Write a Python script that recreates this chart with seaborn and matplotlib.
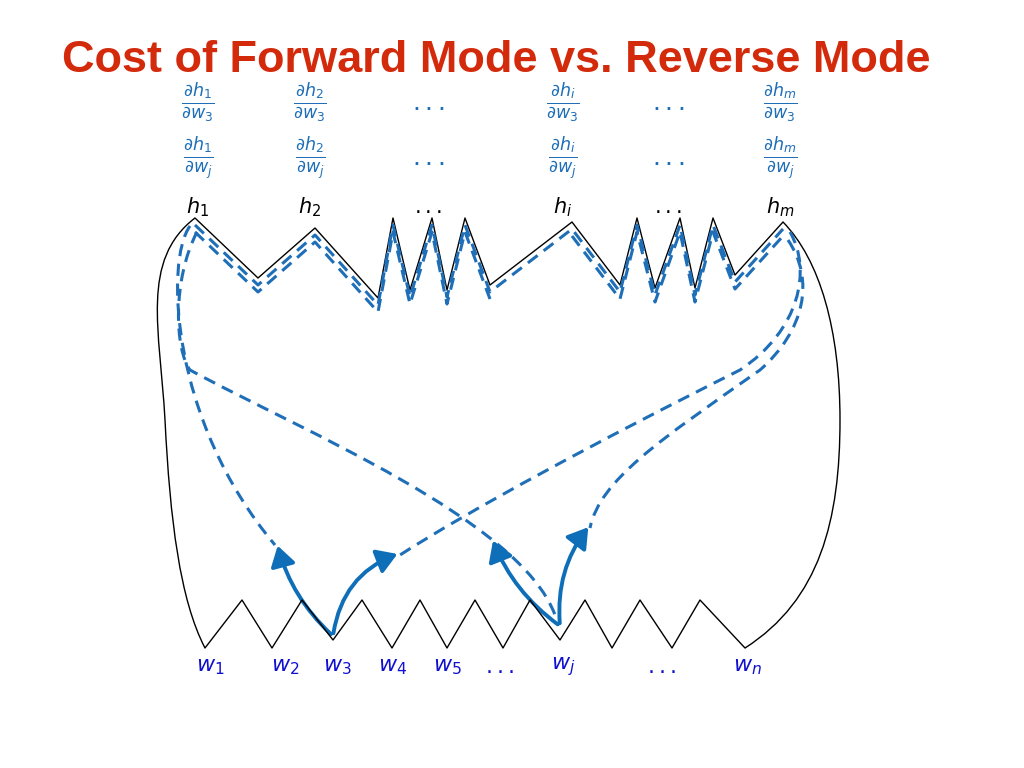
import numpy as np
import matplotlib.pyplot as plt
import seaborn as sns
from matplotlib.patches import FancyArrowPatch, PathPatch
from matplotlib.path import Path

sns.set_theme(style="white")

# --- diagram data (pixel coordinates) ---
top_x = [195, 258, 315, 378, 393, 410, 432, 447, 465, 490, 572, 620, 637, 655, 680, 695, 713, 735, 783]
top_y = [218, 278, 228, 298, 218, 290, 218, 290, 218, 285, 222, 285, 218, 288, 218, 288, 218, 275, 222]
bot_x = [205, 242, 272, 302, 333, 362, 392, 420, 447, 475, 503, 530, 560, 585, 612, 640, 672, 700, 745]
bot_y = [648, 600, 648, 600, 640, 600, 648, 600, 648, 600, 648, 600, 640, 600, 648, 600, 648, 600, 648]

head_x = [198, 310, 428, 563, 668, 780]
head_labels = [r"$h_1$", r"$h_2$", r"$...$", r"$h_i$", r"$...$", r"$h_m$"]
d3_labels = [r"$\frac{\partial h_1}{\partial w_3}$", r"$\frac{\partial h_2}{\partial w_3}$", r"$...$",
             r"$\frac{\partial h_i}{\partial w_3}$", r"$...$", r"$\frac{\partial h_m}{\partial w_3}$"]
dj_labels = [r"$\frac{\partial h_1}{\partial w_j}$", r"$\frac{\partial h_2}{\partial w_j}$", r"$...$",
             r"$\frac{\partial h_i}{\partial w_j}$", r"$...$", r"$\frac{\partial h_m}{\partial w_j}$"]
w_x = [210, 285, 337, 393, 447, 500, 563, 662, 747]
w_labels = [r"$w_1$", r"$w_2$", r"$w_3$", r"$w_4$", r"$w_5$", r"$...$", r"$w_j$", r"$...$", r"$w_n$"]

BLUE = "#1f6fb8"

fig = plt.figure(figsize=(10.24, 7.68), dpi=100)
ax = fig.add_axes([0, 0, 1, 1])
ax.set_xlim(0, 1024)
ax.set_ylim(768, 0)
ax.axis("off")

fig.text(62 / 1024, 1 - 60 / 768, "Cost of Forward Mode vs. Reverse Mode", color="#d42a0c",
         fontsize=32.5, fontweight="bold", family="Liberation Sans", va="center")

# black outline
ax.plot(top_x, top_y, color="black", lw=1)
ax.plot(bot_x, bot_y, color="black", lw=1)


def curve(pts, **kw):
    codes = [Path.MOVETO] + [Path.CURVE4] * (len(pts) - 1)
    ax.add_patch(PathPatch(Path(pts, codes), fill=False, **kw))


curve([(195, 218), (140, 260), (160, 330), (165, 420), (170, 520), (180, 600), (205, 648)], color="black", lw=1)
curve([(783, 222), (820, 260), (840, 330), (840, 420), (840, 520), (820, 600), (745, 648)], color="black", lw=1)

# dashed blue along the top, two offset copies
dash = dict(color=BLUE, lw=2.2, ls=(0, (4, 2.5)))
ax.plot(top_x, np.array(top_y) + 7, **dash)
ax.plot(top_x[:10], np.array(top_y[:10]) + 14, **dash)
ax.plot(top_x[10:], np.array(top_y[10:]) + 14, **dash)

# dashed paths down to w3 and wj
curve([(190, 226), (165, 260), (170, 420), (275, 545)], **dash)
curve([(197, 232), (172, 280), (175, 350), (190, 370), (300, 430), (520, 520), (555, 615)], **dash)
curve([(790, 232), (812, 270), (800, 330), (740, 370), (600, 440), (470, 510), (400, 555)], **dash)
curve([(788, 240), (815, 280), (805, 330), (760, 370), (660, 440), (600, 480), (590, 528)], **dash)

# solid arrows
for start, end, rad in [((333, 636), (277, 543), -0.15), ((333, 636), (400, 553), -0.3),
                        ((560, 626), (492, 538), -0.15), ((560, 626), (590, 525), -0.2)]:
    ax.add_patch(FancyArrowPatch(start, end, connectionstyle=f"arc3,rad={rad}",
                                 arrowstyle="-|>,head_length=8,head_width=5",
                                 color="#0e6eb8", lw=2.8, mutation_scale=1.5))

for x, a, b, c in zip(head_x, d3_labels, dj_labels, head_labels):
    ax.text(x, 103, a, color=BLUE, fontsize=18, ha="center", va="center")
    ax.text(x, 158, b, color=BLUE, fontsize=18, ha="center", va="center")
    ax.text(x, 207, c, color="black", fontsize=15, ha="center", va="center")

for x, lab in zip(w_x, w_labels):
    ax.text(x, 667, lab, color="#1010d0", fontsize=16, ha="center", va="center")

fig.savefig("out.png", dpi=100)
